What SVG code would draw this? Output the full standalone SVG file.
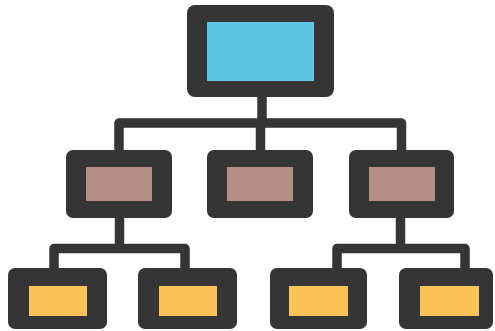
<svg xmlns="http://www.w3.org/2000/svg" width="495" height="331" viewBox="0 0 495 331">
<style>
.frame{fill:#353535}
.top{fill:#5DC7E3}
.mid{fill:#B48D86}
.leaf{fill:#FEC358}
.wire{fill:none;stroke:#353535;stroke-width:9.5;stroke-linejoin:round;stroke-linecap:butt}
</style>
<rect width="495" height="331" fill="#ffffff"/>
<g id="connectors">
<path class="wire" d="M262 96 V123"/>
<path class="wire" d="M119 151 V123 H401.5 V151"/>
<path class="wire" d="M260.5 123 V151"/>
<path class="wire" d="M119.5 217 V248.5"/>
<path class="wire" d="M54 269 V248.5 H185 V269"/>
<path class="wire" d="M400.5 217 V248.5"/>
<path class="wire" d="M337 269 V248.5 H465 V269"/>
</g>
<g id="root">
<rect class="frame" x="187" y="5" width="147" height="92" rx="8"/>
<rect class="top" x="207" y="22" width="107" height="59"/>
</g>
<g id="mid-left">
<rect class="frame" x="66" y="150" width="106" height="68" rx="7"/>
<rect class="mid" x="86" y="167" width="66" height="34"/>
</g>
<g id="mid-center">
<rect class="frame" x="207" y="150" width="106" height="68" rx="7"/>
<rect class="mid" x="227" y="167" width="66" height="34"/>
</g>
<g id="mid-right">
<rect class="frame" x="349" y="150" width="105" height="68" rx="7"/>
<rect class="mid" x="369" y="167" width="66" height="34"/>
</g>
<g id="leaf-1">
<rect class="frame" x="8" y="268" width="99" height="61" rx="7"/>
<rect class="leaf" x="29" y="286" width="58" height="30"/>
</g>
<g id="leaf-2">
<rect class="frame" x="138" y="268" width="99" height="61" rx="7"/>
<rect class="leaf" x="159" y="286" width="58" height="30"/>
</g>
<g id="leaf-3">
<rect class="frame" x="270" y="268" width="97" height="61" rx="7"/>
<rect class="leaf" x="289" y="286" width="59" height="30"/>
</g>
<g id="leaf-4">
<rect class="frame" x="399" y="268" width="94" height="61" rx="7"/>
<rect class="leaf" x="420" y="286" width="59" height="30"/>
</g>
</svg>
